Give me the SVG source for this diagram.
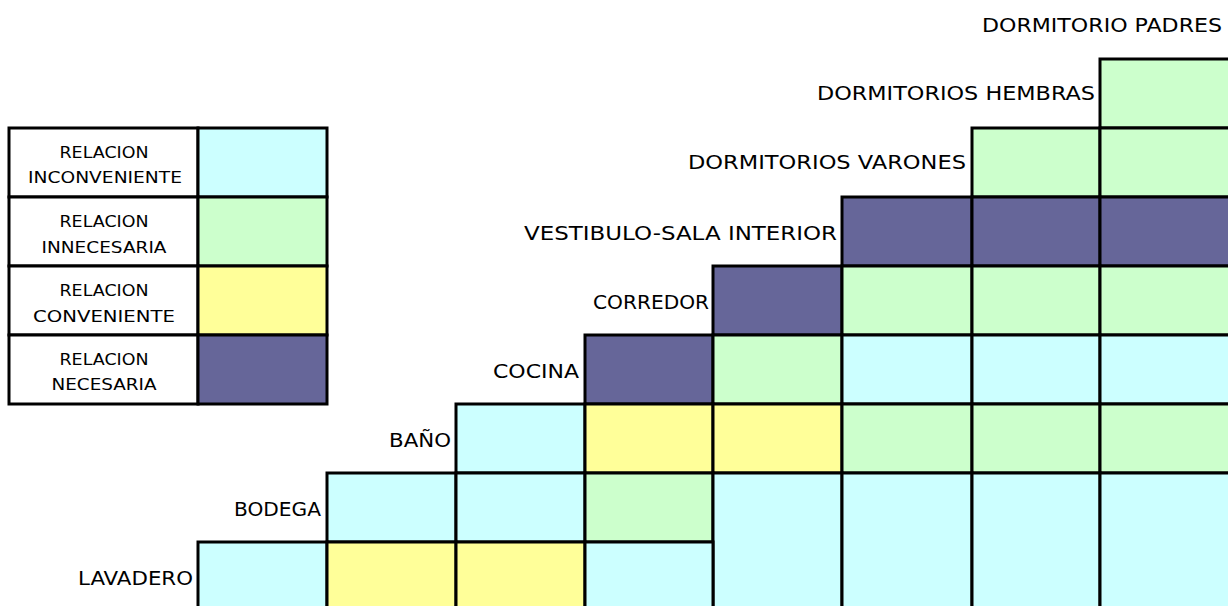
<svg xmlns="http://www.w3.org/2000/svg" width="1228" height="606" viewBox="0 0 1228 606">
<style>
rect{stroke:#000;stroke-width:3}
.c{fill:#CCFFFF}.g{fill:#CCFFCC}.y{fill:#FFFF99}.p{fill:#666699}.w{fill:#FFFFFF}
text{font-family:"DejaVu Sans","Liberation Sans",sans-serif;fill:#000}
.lb{font-size:19px;text-anchor:end}
.lg{font-size:15px;text-anchor:middle}
</style>
<rect x="0" y="0" width="1228" height="606" fill="#fff" style="stroke:none"/>
<g id="legend">
<rect class="w" x="9" y="128" width="189" height="69"/><rect class="c" x="198" y="128" width="129" height="69"/>
<rect class="w" x="9" y="197" width="189" height="69"/><rect class="g" x="198" y="197" width="129" height="69"/>
<rect class="w" x="9" y="266" width="189" height="69"/><rect class="y" x="198" y="266" width="129" height="69"/>
<rect class="w" x="9" y="335" width="189" height="69"/><rect class="p" x="198" y="335" width="129" height="69"/>
<text class="lg" x="104" y="158" textLength="89" lengthAdjust="spacingAndGlyphs">RELACION</text>
<text class="lg" x="105" y="183" textLength="154" lengthAdjust="spacingAndGlyphs">INCONVENIENTE</text>
<text class="lg" x="104" y="227" textLength="89" lengthAdjust="spacingAndGlyphs">RELACION</text>
<text class="lg" x="104" y="253" textLength="125" lengthAdjust="spacingAndGlyphs">INNECESARIA</text>
<text class="lg" x="104" y="296" textLength="89" lengthAdjust="spacingAndGlyphs">RELACION</text>
<text class="lg" x="104" y="322" textLength="142" lengthAdjust="spacingAndGlyphs">CONVENIENTE</text>
<text class="lg" x="104" y="365" textLength="89" lengthAdjust="spacingAndGlyphs">RELACION</text>
<text class="lg" x="104" y="390" textLength="105" lengthAdjust="spacingAndGlyphs">NECESARIA</text>
</g>
<g id="padres">
<text class="lb" x="1222" y="32" textLength="240" lengthAdjust="spacingAndGlyphs">DORMITORIO PADRES</text>
</g>
<g id="hembras">
<rect class="g" x="1100" y="59" width="140" height="69"/>
<text class="lb" x="1095" y="100" textLength="278" lengthAdjust="spacingAndGlyphs">DORMITORIOS HEMBRAS</text>
</g>
<g id="varones">
<rect class="g" x="972" y="128" width="128" height="69"/>
<rect class="g" x="1100" y="128" width="140" height="69"/>
<text class="lb" x="966" y="169" textLength="278" lengthAdjust="spacingAndGlyphs">DORMITORIOS VARONES</text>
</g>
<g id="vestibulo">
<rect class="p" x="842" y="197" width="130" height="69"/>
<rect class="p" x="972" y="197" width="128" height="69"/>
<rect class="p" x="1100" y="197" width="140" height="69"/>
<text class="lb" x="837" y="240" textLength="313" lengthAdjust="spacingAndGlyphs">VESTIBULO-SALA INTERIOR</text>
</g>
<g id="corredor">
<rect class="p" x="713" y="266" width="129" height="69"/>
<rect class="g" x="842" y="266" width="130" height="69"/>
<rect class="g" x="972" y="266" width="128" height="69"/>
<rect class="g" x="1100" y="266" width="140" height="69"/>
<text class="lb" x="709" y="309" textLength="116" lengthAdjust="spacingAndGlyphs">CORREDOR</text>
</g>
<g id="cocina">
<rect class="p" x="585" y="335" width="128" height="69"/>
<rect class="g" x="713" y="335" width="129" height="69"/>
<rect class="c" x="842" y="335" width="130" height="69"/>
<rect class="c" x="972" y="335" width="128" height="69"/>
<rect class="c" x="1100" y="335" width="140" height="69"/>
<text class="lb" x="579" y="378" textLength="86" lengthAdjust="spacingAndGlyphs">COCINA</text>
</g>
<g id="bano">
<rect class="c" x="456" y="404" width="129" height="69"/>
<rect class="y" x="585" y="404" width="128" height="69"/>
<rect class="y" x="713" y="404" width="129" height="69"/>
<rect class="g" x="842" y="404" width="130" height="69"/>
<rect class="g" x="972" y="404" width="128" height="69"/>
<rect class="g" x="1100" y="404" width="140" height="69"/>
<text class="lb" x="451" y="447" textLength="62" lengthAdjust="spacingAndGlyphs">BAÑO</text>
</g>
<g id="bodega">
<rect class="c" x="327" y="473" width="129" height="69"/>
<rect class="c" x="456" y="473" width="129" height="69"/>
<rect class="g" x="585" y="473" width="128" height="69"/>
<rect class="c" x="713" y="473" width="129" height="150"/>
<rect class="c" x="842" y="473" width="130" height="150"/>
<rect class="c" x="972" y="473" width="128" height="150"/>
<rect class="c" x="1100" y="473" width="140" height="150"/>
<text class="lb" x="321" y="516" textLength="87" lengthAdjust="spacingAndGlyphs">BODEGA</text>
</g>
<g id="lavadero">
<rect class="c" x="198" y="542" width="129" height="80"/>
<rect class="y" x="327" y="542" width="129" height="80"/>
<rect class="y" x="456" y="542" width="129" height="80"/>
<rect class="c" x="585" y="542" width="128" height="80"/>
<text class="lb" x="193" y="585" textLength="115" lengthAdjust="spacingAndGlyphs">LAVADERO</text>
</g>
<g id="connectors"/>
</svg>
